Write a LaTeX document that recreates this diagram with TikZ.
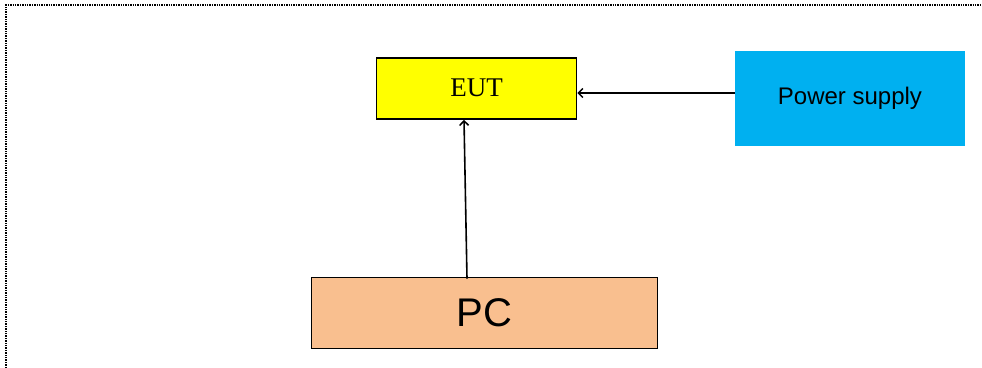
\documentclass[tikz,border=0pt]{standalone}
\usepackage{fontspec}
\setmainfont{Liberation Serif}
\setsansfont{Liberation Sans}
\usetikzlibrary{arrows.meta}

\definecolor{eutyellow}{HTML}{FFFF00}
\definecolor{psblue}{HTML}{00B0F0}
\definecolor{pcpeach}{HTML}{F9BF8F}

\begin{document}
\begin{tikzpicture}[x=1pt,y=-1pt,every node/.style={black,inner sep=0pt},
	>={Straight Barb[length=4.5pt,width=9pt,line width=1.5pt]},
	box/.style={draw=black,line width=1.7pt,anchor=center},
	link/.style={->,line width=1.6pt}]
	\useasboundingbox (0,0) rectangle (982,367);

	\coordinate (E) at (476.5,88.5);
	\coordinate (S) at (850,98.5);
	\coordinate (P) at (484.5,313);

	\draw[densely dotted,line width=1.4pt] (6,380) -- (6,5) -- (990,5);

	\node[box,fill=eutyellow,minimum width=200pt,minimum height=61pt,
		font=\fontsize{27}{30}\selectfont] (eut) at (E) {\raisebox{2pt}{EUT}};
	\node[fill=psblue,minimum width=230pt,minimum height=95pt,
		font=\sffamily\fontsize{24}{28}\selectfont] (ps) at (S) {Power supply};
	\node[box,fill=pcpeach,minimum width=346pt,minimum height=71pt,
		font=\sffamily\fontsize{40}{44}\selectfont] (pc) at (P) {PC};

	\draw[link] ([yshift=5.5pt]ps.west) -- ([yshift=5.5pt]ps.west -| eut.east);
	\draw[link] ([xshift=-17.5pt,yshift=-2pt]pc.north) -- ([xshift=-12.5pt]eut.south);
\end{tikzpicture}
\end{document}
